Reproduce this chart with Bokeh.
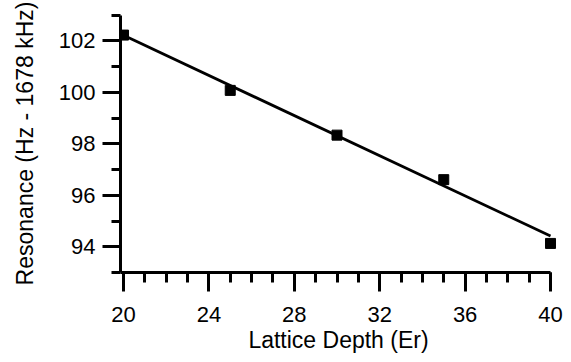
from bokeh.plotting import figure
from bokeh.models import Range1d, SingleIntervalTicker
from bokeh.embed import file_html
from bokeh.resources import INLINE

# data
depth = [20, 25, 30, 35, 40]
resonance = [102.23, 100.08, 98.34, 96.61, 94.13]
fit_x = [20, 40]
fit_y = [102.22, 94.42]

FONT = "Liberation Sans"

p = figure(output_backend="svg", toolbar_location=None,
           frame_width=436, frame_height=258,
           min_border_left=120, min_border_top=14, min_border_right=7, min_border_bottom=80,
           x_range=Range1d(19.86, 40.28), y_range=Range1d(93.0, 103.03))
p.outline_line_color = None
p.xgrid.grid_line_color = None
p.ygrid.grid_line_color = None
p.background_fill_color = "white"
p.border_fill_color = "white"

p.line(fit_x, fit_y, line_color="black", line_width=2.8)
p.scatter(depth, resonance, marker="square", size=10, fill_color="black", line_color="black")

xa = p.xaxis[0]
xa.ticker = SingleIntervalTicker(interval=4, num_minor_ticks=4)
xa.bounds = (19.86, 40.0)
xa.axis_label = "Lattice Depth (Er)"

ya = p.yaxis[0]
ya.ticker = SingleIntervalTicker(interval=2, num_minor_ticks=2)
ya.bounds = (92.99, 103.01)
ya.axis_label = "Resonance (Hz - 1678 kHz)"

for ax in (xa, ya):
    ax.axis_line_width = 3
    ax.axis_line_color = "black"
    ax.major_tick_line_width = 3
    ax.minor_tick_line_width = 3
    ax.major_tick_line_color = "black"
    ax.minor_tick_line_color = "black"
    ax.major_tick_in = 0
    ax.minor_tick_in = 0
    ax.major_label_text_font = FONT
    ax.major_label_text_font_size = "22px"
    ax.major_label_text_color = "black"
    ax.axis_label_text_font = FONT
    ax.axis_label_text_font_size = "23px"
    ax.axis_label_text_font_style = "normal"
    ax.axis_label_text_color = "black"

xa.major_tick_out = 19
xa.minor_tick_out = 10
xa.major_label_standoff = 15
xa.axis_label_standoff = 2
ya.major_tick_out = 18
ya.minor_tick_out = 9
ya.major_label_standoff = 7
ya.axis_label_standoff = 18

open("out.html", "w").write(file_html(p, INLINE))
